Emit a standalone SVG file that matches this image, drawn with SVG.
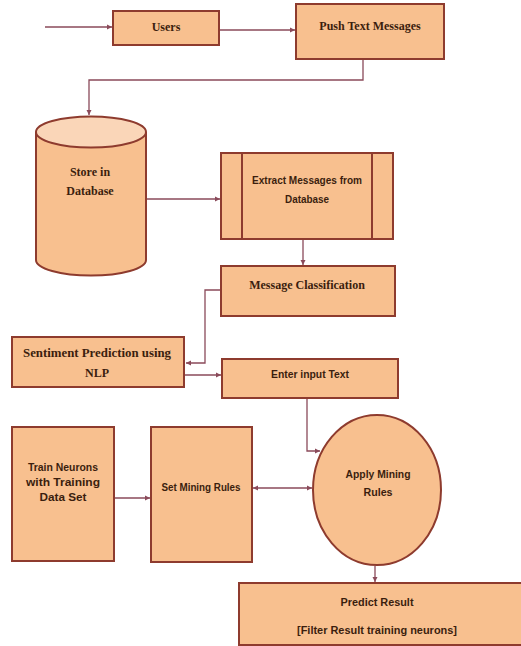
<svg xmlns="http://www.w3.org/2000/svg" width="521" height="646" viewBox="0 0 521 646">
<defs>
<marker id="ah" markerWidth="6" markerHeight="6" refX="5" refY="3" orient="auto" markerUnits="userSpaceOnUse">
<path d="M0,0.5 L5,3 L0,5.5 Z" fill="#8a4a5a"/>
</marker>
<marker id="ahs" markerWidth="6" markerHeight="6" refX="1" refY="3" orient="auto" markerUnits="userSpaceOnUse">
<path d="M6,0.5 L1,3 L6,5.5 Z" fill="#8a4a5a"/>
</marker>
<style>
.box{fill:#f8c08f;stroke:#8e3b2e;stroke-width:2}
.top{fill:#fad6b8;stroke:#8e3b2e;stroke-width:2}
.ser{font-family:"Liberation Serif","Times New Roman",serif;font-weight:bold;font-size:12px;fill:#3b1e0e;text-anchor:middle}
.san{font-family:"Liberation Sans",Arial,sans-serif;font-weight:bold;font-size:10px;fill:#3b1e0e;text-anchor:middle}
.con{fill:none;stroke:#8a4a5a;stroke-width:1.3}
</style>
</defs>
<rect width="521" height="646" fill="#ffffff"/>
<g id="users"><rect class="box" x="113" y="11" width="106" height="34"/><text class="ser" x="166" y="31">Users</text></g>
<g id="push"><rect class="box" x="296" y="4" width="148" height="55"/><text class="ser" x="370" y="30">Push Text Messages</text></g>
<g id="db">
<path class="box" d="M36,132 L36,260 A55,15.5 0 0 0 146,260 L146,132"/>
<ellipse class="top" cx="91" cy="132" rx="55" ry="15.5"/>
<text class="ser" x="90" y="176">Store in</text><text class="ser" x="90" y="195">Database</text>
</g>
<g id="extract"><rect class="box" x="221" y="153" width="172" height="86"/>
<line x1="242" y1="153" x2="242" y2="239" stroke="#8e3b2e" stroke-width="2"/><line x1="372" y1="153" x2="372" y2="239" stroke="#8e3b2e" stroke-width="2"/>
<text class="san" x="307" y="184" textLength="110" lengthAdjust="spacingAndGlyphs">Extract Messages from</text><text class="san" x="307" y="203" textLength="44" lengthAdjust="spacingAndGlyphs">Database</text></g>
<g id="classify"><rect class="box" x="221" y="266" width="174" height="50"/><text class="ser" x="307" y="289">Message Classification</text></g>
<g id="sentiment"><rect class="box" x="12" y="337" width="172" height="50"/><text class="ser" x="97" y="357" textLength="148" lengthAdjust="spacingAndGlyphs">Sentiment Prediction using</text><text class="ser" x="97" y="377">NLP</text></g>
<g id="enter"><rect class="box" x="222" y="359" width="176" height="39"/><text class="san" x="310" y="378" textLength="78" lengthAdjust="spacingAndGlyphs">Enter input Text</text></g>
<g id="train"><rect class="box" x="12" y="427" width="102" height="134"/>
<text class="san" x="63" y="471" textLength="70" lengthAdjust="spacingAndGlyphs">Train Neurons</text>
<text class="san" x="63" y="486" textLength="74" lengthAdjust="spacingAndGlyphs">with Training</text>
<text class="san" x="63" y="501" textLength="47" lengthAdjust="spacingAndGlyphs">Data Set</text></g>
<g id="setrules"><rect class="box" x="151" y="427" width="101" height="135"/><text class="san" x="201" y="491" textLength="79" lengthAdjust="spacingAndGlyphs">Set Mining Rules</text></g>
<g id="apply"><ellipse class="box" cx="377" cy="490" rx="64" ry="75"/><text class="san" x="378" y="478" textLength="65" lengthAdjust="spacingAndGlyphs">Apply Mining</text><text class="san" x="378" y="496" textLength="29" lengthAdjust="spacingAndGlyphs">Rules</text></g>
<g id="predict"><rect class="box" x="239" y="583" width="290" height="62"/><text class="san" x="377" y="606" textLength="73" lengthAdjust="spacingAndGlyphs">Predict Result</text><text class="san" x="377" y="634" textLength="160" lengthAdjust="spacingAndGlyphs">[Filter Result training neurons]</text></g>
<g id="connectors">
<path class="con" d="M45,27 L112,27" marker-end="url(#ah)"/>
<path class="con" d="M220,30 L295,30" marker-end="url(#ah)"/>
<path class="con" d="M363,60 L363,80 L89,80 L89,115" marker-end="url(#ah)"/>
<path class="con" d="M147,199 L220,199" marker-end="url(#ah)"/>
<path class="con" d="M303,240 L303,265" marker-end="url(#ah)"/>
<path class="con" d="M220,290 L205,290 L205,363 L186,363" marker-end="url(#ah)"/>
<path class="con" d="M185,375 L221,375" marker-end="url(#ah)"/>
<path class="con" d="M307,399 L307,451 L320,451" marker-end="url(#ah)"/>
<path class="con" d="M115,498 L150,498" marker-end="url(#ah)"/>
<path class="con" d="M253,488 L312,488" marker-start="url(#ahs)" marker-end="url(#ah)"/>
<path class="con" d="M375,566 L375,582" marker-end="url(#ah)"/>
</g>
</svg>
